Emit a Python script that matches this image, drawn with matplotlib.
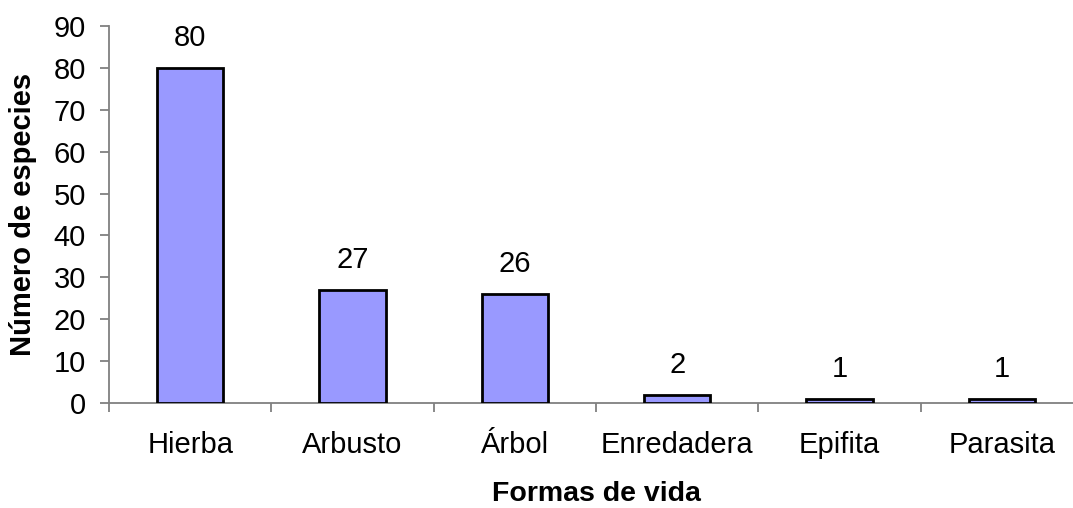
import numpy as np
import matplotlib.pyplot as plt

plt.rc('font', family=['Liberation Sans', 'DejaVu Sans'], size=21)

formas = ['Hierba', 'Arbusto', 'Árbol', 'Enredadera', 'Epifita', 'Parasita']
especies = [80, 27, 26, 2, 1, 1]

fig = plt.figure(figsize=(10.73, 5.08), dpi=100)
ax = fig.add_axes([109/1073, 1-403/508, 974/1073, 377/508])

x = np.arange(len(formas))
bars = ax.bar(x, especies, width=0.41, color='#9999ff', edgecolor='black',
              linewidth=2, zorder=3)
for b, v in zip(bars, especies):
    ax.text(b.get_x() + b.get_width()/2, v + 5.2, str(v), ha='center', va='baseline')

ax.set_xlim(-0.5, len(formas) - 0.5)
ax.set_ylim(0, 90)
ax.set_yticks(np.arange(0, 91, 10))
# category separators as major ticks, names as minor ticks
ax.set_xticks(np.arange(-0.5, len(formas), 1))
ax.set_xticklabels([])
ax.set_xticks(x, minor=True)
ax.set_xticklabels(formas, minor=True)
ax.tick_params(axis='x', which='minor', length=0, pad=20)
ax.tick_params(axis='x', which='major', length=6.5, width=1.3, color='#808080')
ax.tick_params(axis='y', length=6.5, width=1.3, color='#808080', pad=10)

for s in ['top', 'right']:
    ax.spines[s].set_visible(False)
for s in ['left', 'bottom']:
    ax.spines[s].set_color('#808080')
    ax.spines[s].set_linewidth(1.3)

ax.set_ylabel('Número de especies', fontweight='bold', fontsize=21, labelpad=12)
ax.set_xlabel('Formas de vida', fontweight='bold', fontsize=20.5, labelpad=16)

fig.savefig('out.png', dpi=100)
